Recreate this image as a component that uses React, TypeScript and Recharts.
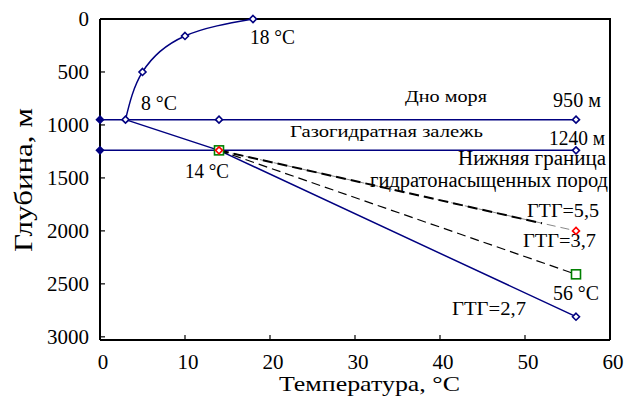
import React from 'react';
import { LineChart, Line, XAxis, YAxis, Customized } from 'recharts';

// ---- data ----
const tempTicks = [0, 10, 20, 30, 40, 50, 60];
const depthTicks = [0, 500, 1000, 1500, 2000, 2500, 3000];

const geothermTemp = [18, 10, 5, 3];
const geothermDepth = [0, 160, 500, 950];

const gradientTemp = [3, 14, 56];
const gradientDepth = [950, 1240, 2810];

const seabedTemp = [0, 14, 56];
const seabedDepth = [950, 950, 950];

const hydrateBaseTemp = [0, 56];
const hydrateBaseDepth = [1240, 1240];

const ggt37Temp = [14, 56];
const ggt37Depth = [1240, 2410];

const ggt55Temp = [14, 56];
const ggt55Depth = [1240, 2000];

const ggt55TraceTemp = [14, 52];
const ggt55TraceDepth = [1240, 1928];

// plot frame (top and right edges, at the axis limits)
const frameTemp = [0, 60, 60];
const frameDepth = [0, 0, 3030];

const xTitle = 'Температура, °C';
const yTitle = 'Глубина, м';

const annotationTexts = [
  '18 °C',
  '8 °C',
  '14 °C',
  'Дно моря',
  '950 м',
  'Газогидратная  залежь',
  '1240 м',
  'Нижняя граница',
  'гидратонасыщенных пород',
  'ГТГ=5,5',
  'ГТГ=3,7',
  '56 °C',
  'ГТГ=2,7',
];

// layout (left x, baseline y, width, font size) for each annotation
const annotationLayout: [number, number, number, number][] = [
  [250, 44, 45, 20],
  [141, 110, 36, 20],
  [185, 178, 44, 20],
  [405, 102, 82, 17],
  [553, 107, 48, 20],
  [290, 137, 193, 17],
  [549, 145, 56, 20],
  [458, 165, 148, 20],
  [370, 187, 238, 20],
  [527, 217, 72, 19],
  [523, 247, 73, 19],
  [553, 300, 46, 20],
  [452, 315, 74, 19],
];

const zip = (t: number[], d: number[]) => t.map((v, i) => ({ t: v, d: d[i] }));

const NAVY = '#000080';
const FONT = '"Liberation Serif", "Times New Roman", serif';

const W = 631;
const H = 396;
const MARGIN = { top: 19, right: 21, bottom: 0, left: 0 };
const Y_AXIS_W = 100;
const X_AXIS_H = 56;

const diamond = (cx: number, cy: number, r: number) =>
  `M${cx},${cy - r}L${cx + r},${cy}L${cx},${cy + r}L${cx - r},${cy}Z`;

const navyDot = (props: any) => {
  const { cx, cy, payload, index } = props;
  const filled = payload && payload.t === 0;
  return (
    <path
      key={`nd-${index}-${cx}-${cy}`}
      d={diamond(cx, cy, 3.5)}
      fill={filled ? NAVY : '#fff'}
      stroke={NAVY}
      strokeWidth={1.6}
    />
  );
};

const redDot = (props: any) => {
  const { cx, cy, index } = props;
  return (
    <path
      key={`rd-${index}`}
      d={diamond(cx, cy, 3.5)}
      fill="#fff"
      stroke="#ff0000"
      strokeWidth={1.6}
    />
  );
};

const greenDot = (props: any) => {
  const { cx, cy, index } = props;
  return (
    <rect
      key={`gd-${index}`}
      x={cx - 4.5}
      y={cy - 4.5}
      width={9}
      height={9}
      fill="#fff"
      stroke="#008000"
      strokeWidth={1.6}
    />
  );
};

const YTick = (props: any) => {
  const { x, y, payload } = props;
  return (
    <g>
      <line x1={x} y1={y} x2={x + 5} y2={y} stroke="#000" strokeWidth={1.2} />
      <text x={x - 11} y={y + 7} textAnchor="end" fontFamily={FONT} fontSize={21} fill="#000">
        {payload.value}
      </text>
    </g>
  );
};

const XTick = (props: any) => {
  const { x, y, payload } = props;
  return (
    <g>
      <line x1={x} y1={y} x2={x} y2={y - 5} stroke="#000" strokeWidth={1.2} />
      <text x={x + 3} y={y + 29} textAnchor="middle" fontFamily={FONT} fontSize={21} fill="#000">
        {payload.value}
      </text>
    </g>
  );
};

const Annotations = () => (
  <g>
    {annotationTexts.map((s, i) => {
      const [x, y, w, fs] = annotationLayout[i];
      return (
        <text
          key={i}
          x={x}
          y={y}
          textLength={w}
          lengthAdjust="spacingAndGlyphs"
          fontFamily={FONT}
          fontSize={fs}
          fill="#000"
        >
          {s}
        </text>
      );
    })}
    <text
      x={279}
      y={391}
      textLength={181}
      lengthAdjust="spacingAndGlyphs"
      fontFamily={FONT}
      fontSize={21}
      fill="#000"
    >
      {xTitle}
    </text>
    <text
      x={32}
      y={180}
      textAnchor="middle"
      transform="rotate(-90, 32, 180)"
      textLength={144}
      lengthAdjust="spacingAndGlyphs"
      fontFamily={FONT}
      fontSize={26}
      fill="#000"
    >
      {yTitle}
    </text>
  </g>
);

export default function App() {
  return (
    <div style={{ position: 'absolute', left: 0, top: 0, background: '#fff' }}>
      <LineChart width={W} height={H} margin={MARGIN}>
        <XAxis
          xAxisId="b"
          type="number"
          dataKey="t"
          domain={[0, 60]}
          ticks={tempTicks}
          height={X_AXIS_H}
          tickSize={0}
          tickMargin={0}
          tickLine={false}
          axisLine={{ stroke: '#000', strokeWidth: 2 }}
          tick={<XTick />}
        />
        <YAxis
          yAxisId="l"
          type="number"
          dataKey="d"
          reversed
          domain={[0, 3030]}
          ticks={depthTicks}
          width={Y_AXIS_W}
          tickSize={0}
          tickMargin={0}
          tickLine={false}
          axisLine={{ stroke: '#000', strokeWidth: 2 }}
          tick={<YTick />}
        />
        <Line
          xAxisId="b"
          yAxisId="l"
          data={zip(frameTemp, frameDepth)}
          dataKey="d"
          type="linear"
          stroke="#000"
          strokeWidth={2}
          dot={false}
          isAnimationActive={false}
        />
        <Line
          xAxisId="b"
          yAxisId="l"
          data={zip(seabedTemp, seabedDepth)}
          dataKey="d"
          type="linear"
          stroke={NAVY}
          strokeWidth={1.5}
          dot={navyDot}
          isAnimationActive={false}
        />
        <Line
          xAxisId="b"
          yAxisId="l"
          data={zip(hydrateBaseTemp, hydrateBaseDepth)}
          dataKey="d"
          type="linear"
          stroke={NAVY}
          strokeWidth={1.5}
          dot={navyDot}
          isAnimationActive={false}
        />
        <Line
          xAxisId="b"
          yAxisId="l"
          data={zip(gradientTemp, gradientDepth)}
          dataKey="d"
          type="linear"
          stroke={NAVY}
          strokeWidth={1.5}
          dot={false}
          isAnimationActive={false}
        />
        <Line
          xAxisId="b"
          yAxisId="l"
          data={zip(gradientTemp.slice(2), gradientDepth.slice(2))}
          dataKey="d"
          type="linear"
          stroke={NAVY}
          strokeWidth={1.5}
          dot={navyDot}
          isAnimationActive={false}
        />
        <Line
          xAxisId="b"
          yAxisId="l"
          data={zip(geothermTemp, geothermDepth)}
          dataKey="d"
          type="natural"
          stroke={NAVY}
          strokeWidth={1.5}
          dot={navyDot}
          isAnimationActive={false}
        />
        <Line
          xAxisId="b"
          yAxisId="l"
          data={zip(ggt37Temp, ggt37Depth)}
          dataKey="d"
          type="linear"
          stroke="#000"
          strokeWidth={1.2}
          strokeDasharray="9 5"
          dot={greenDot}
          isAnimationActive={false}
        />
        <Line
          xAxisId="b"
          yAxisId="l"
          data={zip(ggt55Temp, ggt55Depth)}
          dataKey="d"
          type="linear"
          stroke="#888"
          strokeWidth={1}
          strokeDasharray="9 5"
          dot={false}
          isAnimationActive={false}
        />
        <Line
          xAxisId="b"
          yAxisId="l"
          data={zip(ggt55TraceTemp, ggt55TraceDepth)}
          dataKey="d"
          type="linear"
          stroke="#000"
          strokeWidth={2}
          strokeDasharray="10 5"
          dot={false}
          isAnimationActive={false}
        />
        <Line
          xAxisId="b"
          yAxisId="l"
          data={zip(ggt55Temp, ggt55Depth)}
          dataKey="d"
          type="linear"
          stroke="none"
          dot={redDot}
          isAnimationActive={false}
        />
        <Customized component={Annotations} />
      </LineChart>
    </div>
  );
}
